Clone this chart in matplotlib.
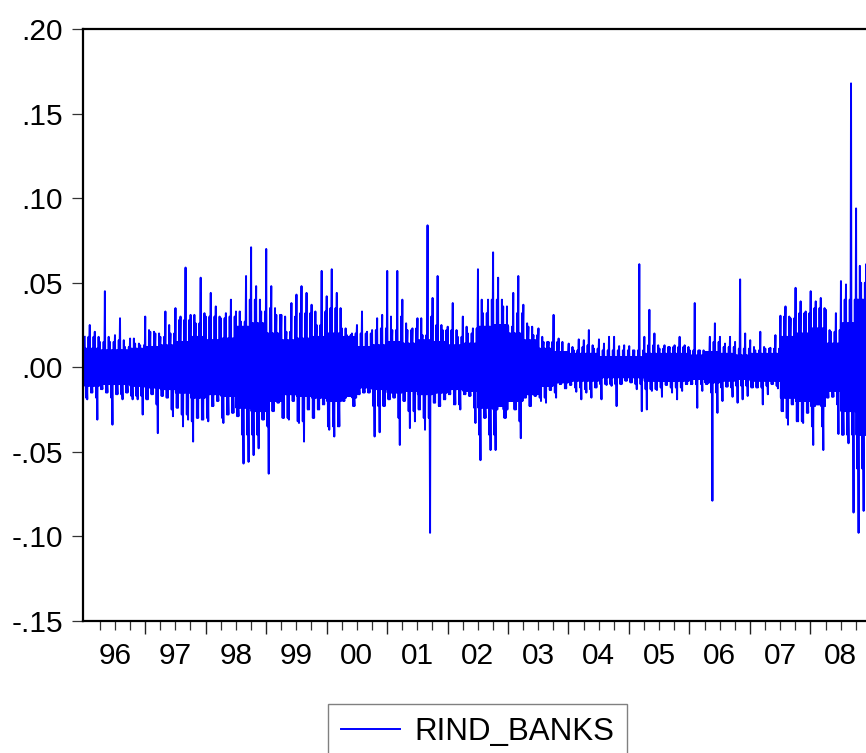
import numpy
import matplotlib
matplotlib.use('Agg')
import matplotlib.pyplot as plt
from matplotlib.ticker import FixedLocator, NullFormatter

# Daily bank index returns, summarised as the largest and smallest
# return of each month (in percent), Jan 1996 .. Dec 2008
start_year = 1996
monthly_high = [
    1.8, 2.5, 2.1, 1.5, 4.5, 1.5, 1.9, 2.9, 1.2, 1.7, 1.4, 1.3,      # 96
    3.0, 2.1, 2.0, 1.8, 3.3, 2.0, 3.5, 3.0, 5.9, 3.1, 2.6, 5.3,      # 97
    3.0, 4.4, 3.6, 2.9, 3.2, 4.0, 3.3, 2.7, 5.4, 7.1, 4.8, 3.3,      # 98
    7.0, 4.8, 3.1, 3.1, 2.1, 3.8, 4.3, 4.8, 4.4, 3.7, 2.5, 5.7,      # 99
    4.2, 5.8, 4.4, 2.3, 1.9, 2.0, 2.5, 3.3, 2.1, 2.2, 2.9, 3.1,      # 00
    5.7, 2.2, 5.7, 4.0, 2.2, 2.3, 2.9, 1.9, 8.4, 4.1, 5.4, 2.2,      # 01
    2.4, 3.8, 1.8, 3.0, 2.0, 2.3, 5.8, 3.2, 4.0, 6.8, 5.3, 3.6,      # 02
    2.4, 4.4, 5.4, 3.7, 2.4, 1.9, 2.3, 1.5, 1.5, 3.1, 1.7, 0.9,      # 03
    1.4, 1.0, 1.65, 1.6, 2.2, 1.1, 1.65, 1.4, 1.8, 1.8, 1.25, 1.3,   # 04
    1.25, 1.0, 6.1, 1.8, 3.4, 2.0, 1.1, 1.3, 1.2, 1.3, 1.8, 1.3,     # 05
    1.0, 3.8, 1.0, 0.9, 1.8, 2.6, 1.8, 1.4, 1.8, 1.5, 5.2, 2.0,      # 06
    1.6, 1.0, 2.1, 1.1, 1.15, 1.9, 3.05, 3.6, 2.9, 4.7, 3.9, 3.3,    # 07
    4.5, 3.9, 4.1, 3.4, 2.1, 3.2, 5.1, 4.9, 16.8, 9.4, 5.0, 6.1,     # 08
]
monthly_low = [
    -1.9, -1.5, -3.1, -1.3, -1.5, -3.4, -1.6, -1.9, -1.5, -1.9, -1.9, -2.8,
    -1.9, -1.6, -3.9, -1.7, -1.8, -2.9, -2.4, -3.5, -3.1, -4.4, -3.0, -3.1,
    -3.2, -2.3, -2.0, -3.3, -2.8, -2.7, -2.9, -5.7, -5.6, -5.2, -4.8, -3.1,
    -6.3, -2.6, -2.1, -3.0, -3.1, -2.0, -3.3, -4.4, -2.5, -3.0, -2.5, -2.2,
    -3.7, -4.1, -3.5, -2.0, -1.7, -2.3, -1.6, -1.5, -1.5, -4.1, -3.85, -2.3,
    -1.9, -1.8, -4.6, -2.0, -3.6, -3.2, -2.5, -3.7, -9.8, -2.1, -2.3, -1.9,
    -1.6, -2.2, -2.5, -1.6, -1.7, -3.3, -5.5, -3.0, -4.9, -4.9, -2.3, -3.0,
    -2.0, -2.5, -4.2, -1.8, -2.3, -1.7, -2.0, -2.1, -1.35, -1.8, -1.0, -1.25,
    -1.05, -1.45, -1.9, -1.5, -1.8, -1.2, -1.9, -1.05, -1.1, -2.3, -1.0, -0.8,
    -0.9, -1.3, -2.6, -2.5, -1.4, -1.35, -1.75, -1.05, -1.5, -1.9, -1.4, -1.0,
    -1.0, -2.4, -1.4, -1.0, -7.9, -2.7, -2.0, -1.15, -1.75, -2.1, -1.9, -1.7,
    -1.2, -1.2, -2.2, -1.6, -1.0, -1.25, -2.6, -3.4, -2.2, -3.2, -3.3, -2.7,
    -4.6, -2.2, -4.9, -1.8, -1.75, -3.95, -4.0, -4.5, -8.6, -9.8, -8.5, -4.4,
]
# typical daily swing and typical larger move (percent), per quarter
quarter_swing = [
    1.1, 1.0, 1.0, 1.1,   # 96
    1.2, 1.3, 1.5, 1.8,   # 97
    1.6, 1.7, 2.4, 2.6,   # 98
    2.0, 1.6, 1.7, 1.8,   # 99
    2.0, 1.8, 1.2, 1.3,   # 00
    1.5, 1.4, 1.6, 1.5,   # 01
    1.3, 1.4, 2.4, 2.5,   # 02
    2.0, 1.6, 1.1, 0.9,   # 03
    0.8, 0.8, 0.6, 0.6,   # 04
    0.6, 0.8, 0.8, 0.8,   # 05
    0.7, 0.9, 0.8, 0.7,   # 06
    0.8, 0.8, 1.8, 2.0,   # 07
    2.3, 1.4, 2.6, 4.0,   # 08
]
quarter_move = [
    1.8, 1.8, 1.6, 1.7,   # 96
    2.2, 2.5, 2.8, 3.2,   # 97
    3.0, 3.0, 4.0, 4.0,   # 98
    3.5, 3.0, 3.2, 3.3,   # 99
    3.5, 3.3, 2.0, 2.3,   # 00
    3.0, 2.6, 3.0, 2.5,   # 01
    2.2, 2.4, 4.0, 4.0,   # 02
    3.2, 2.6, 1.8, 1.5,   # 03
    1.2, 1.3, 1.0, 1.0,   # 04
    1.0, 1.3, 1.2, 1.2,   # 05
    1.0, 1.5, 1.2, 1.1,   # 06
    1.2, 1.1, 3.0, 3.2,   # 07
    3.5, 2.2, 4.0, 6.0,   # 08
]
series_name = 'RIND_BANKS'
year_labels = ['96', '97', '98', '99', '00', '01', '02', '03', '04', '05',
               '06', '07', '08']
y_ticks = [-0.15, -0.10, -0.05, 0.00, 0.05, 0.10, 0.15, 0.20]
y_tick_labels = ['-.15', '-.10', '-.05', '.00', '.05', '.10', '.15', '.20']


def build_series():
    """Lay the monthly extremes, the typical swing and the larger moves
    out as one path, twelve steps per month"""
    hi = numpy.array(monthly_high) / 100.
    lo = numpy.array(monthly_low) / 100.
    s = numpy.repeat(numpy.array(quarter_swing) / 100., 3)
    s2 = numpy.repeat(numpy.array(quarter_move) / 100., 3)

    up, dn = numpy.minimum(s, hi), -numpy.minimum(s, -lo)
    up2, dn2 = numpy.minimum(s2, hi), -numpy.minimum(s2, -lo)

    r = numpy.column_stack([hi, dn, up, dn2, up, dn,
                            lo, up, dn, up2, dn, up]).ravel()
    steps = 12
    t = start_year + (numpy.arange(len(hi) * steps) + 0.5) / (12. * steps)
    return t, r


def plot_returns():
    plt.rcParams['font.family'] = ['Liberation Sans', 'DejaVu Sans']
    fig = plt.figure(figsize=(8.66, 7.53), dpi=100)
    W, H = 866., 753.
    # axes frame runs a little past the right edge of the image
    ax = fig.add_axes([83 / W, 1 - 620.7 / H, 789.5 / W, 591.4 / H])

    t, r = build_series()
    line, = ax.plot(t, r, color='#0000ff', lw=1.4)

    n_years = len(year_labels)
    ax.set_xlim(start_year - 0.025, start_year + n_years + 0.025)
    ax.set_ylim(-0.15, 0.20)

    for sp in ax.spines.values():
        sp.set_linewidth(1.6)

    ax.set_yticks(y_ticks)
    ax.set_yticklabels(y_tick_labels)
    ax.tick_params(axis='y', direction='out', length=8, width=0.9,
                   pad=6.5, labelsize=21.5, color='#333333')

    years = numpy.arange(start_year + 1, start_year + n_years)
    quarters = [start_year + q / 4. for q in range(4 * n_years)
                if q % 4 != 0]
    ax.xaxis.set_major_locator(FixedLocator(years))
    ax.xaxis.set_major_formatter(NullFormatter())
    ax.xaxis.set_minor_locator(FixedLocator(quarters))
    ax.tick_params(axis='x', which='major', direction='out', length=9.5,
                   width=1.0, color='#222222')
    ax.tick_params(axis='x', which='minor', direction='out', length=6.5,
                   width=0.9, color='#333333')

    # year labels sit in the middle of each year
    sec = ax.secondary_xaxis('bottom')
    sec.set_xticks(start_year + 0.5 + numpy.arange(n_years))
    sec.set_xticklabels(year_labels)
    sec.tick_params(length=0, pad=15, labelsize=21.5)
    sec.spines['bottom'].set_visible(False)

    # legend box hangs off the bottom edge of the figure
    fig.legend([line], [series_name], loc='upper center',
               bbox_to_anchor=(477.5 / W, 1 - 704 / H),
               fontsize=22.5, frameon=True, fancybox=False, framealpha=1,
               edgecolor='#808080', borderaxespad=0, borderpad=0.4,
               handlelength=1.9, handletextpad=0.45)

    fig.savefig('out.png', dpi=100)


if __name__ == '__main__':
    plot_returns()
